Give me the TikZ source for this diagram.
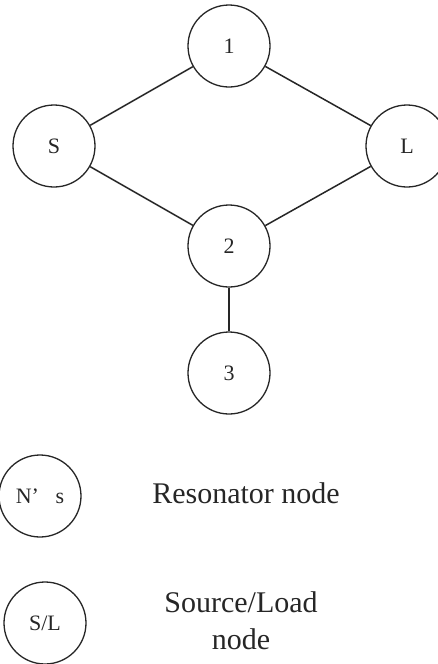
\documentclass[tikz,border=0pt]{standalone}
\usepackage{fontspec}
\setmainfont{Liberation Serif}
\usepackage{tikz}

\begin{document}
\begin{tikzpicture}[x=1pt,y=-1pt,
    res/.style={draw=black!85,line width=1.3pt,shape=circle,minimum size=82pt,inner sep=0pt,
      text=black!85,font=\fontsize{22}{22}\selectfont},
    link/.style={line width=1.5pt,black!85}]
    % \draw[step=50] (0,0) grid (438,664);
    \useasboundingbox (0,0) rectangle (438,664);

    \draw (229,46) node[res] (n1) {1};
    \draw (54,146) node[res] (S) {S};
    \draw (407,146) node[res] (L) {L};
    \draw (229,246) node[res] (n2) {2};
    \draw (229,373) node[res] (n3) {3};

    \draw[link] (S) -- (n1);
    \draw[link] (n1) -- (L);
    \draw[link] (S) -- (n2);
    \draw[link] (L) -- (n2);
    \draw[link] (n2) -- (n3);

    % legend
    \draw (40,496) node[res] (nres) {N'\hspace{0.75em}s};
    \draw (45,623) node[res] (nsl) {S/L};

    \draw (246,503) node[anchor=base,text=black!85,font=\fontsize{30}{37}\selectfont] (tres) {Resonator node};
    \draw (241,621) node[align=center,text=black!85,font=\fontsize{30}{37}\selectfont] (tsl) {Source/Load\\node};
\end{tikzpicture}
\end{document}
